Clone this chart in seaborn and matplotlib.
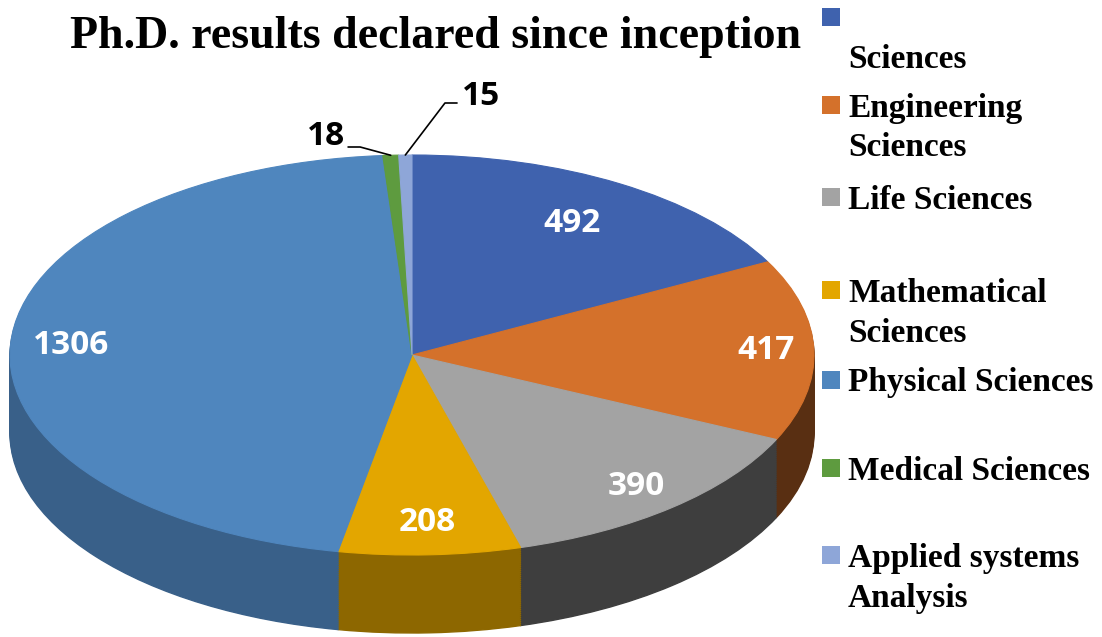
"""
plot.py
Ph.D. results declared since inception - pseudo 3D pie.
"""

import matplotlib
matplotlib.use("Agg")
import matplotlib.pyplot as plt
import seaborn as sns
import numpy as np
from matplotlib.patches import Rectangle
from matplotlib.lines import Line2D

# data
categories = ["\nSciences", "Engineering\nSciences", "Life Sciences",
              "Mathematical\nSciences", "Physical Sciences", "Medical Sciences",
              "Applied systems\nAnalysis"]
counts = [492, 417, 390, 208, 1306, 18, 15]
top_colors = ["#3F62AE", "#D4712B", "#A3A3A3", "#E3A600", "#4F86BE", "#5E9B3F", "#8EA6D8"]
side_shade = [0.55, 0.42, 0.38, 0.62, 0.72, 0.6, 0.6]

sns.set_theme(style="white")
plt.rcParams["font.family"] = ["DejaVu Sans"]
plt.rcParams["text.color"] = "black"

W, H = 1102, 637
fig = plt.figure(figsize=(W / 100, H / 100), dpi=100)
ax = fig.add_axes([0, 0, 1, 1])

# pixel geometry of the tilted pie
cx, cy, a, b, depth = 412, 355, 402, 200, 0.39

side_colors = [tuple(np.array(matplotlib.colors.to_rgb(c)) * s) for c, s in zip(top_colors, side_shade)]

# side wall: stack of darker pies moved down
n_steps = 40
for k in range(n_steps, 0, -1):
    ax.pie(counts, colors=side_colors, startangle=90, counterclock=False,
           center=(0, -depth * k / n_steps), radius=1,
           wedgeprops=dict(linewidth=1, edgecolor=None), frame=True)
    for w in ax.patches[-len(counts):]:
        w.set_edgecolor(w.get_facecolor())

# top face
wedges, _ = ax.pie(counts, colors=top_colors, startangle=90, counterclock=False,
                   radius=1, wedgeprops=dict(linewidth=0.8, edgecolor=None), frame=True)
for w in wedges:
    w.set_edgecolor(w.get_facecolor())

ax.set_aspect("auto")
ax.set_xlim(-cx / a, (W - cx) / a)
ax.set_ylim((cy - H) / b, cy / b)
ax.axis("off")

# data labels
total = sum(counts)
bounds = 90 - 360 * np.cumsum([0] + counts) / total
mids = (bounds[:-1] + bounds[1:]) / 2
inner_r = [0.77, 0.88, 0.86, 0.84, 0.85]
for i, r in enumerate(inner_r):
    th = np.deg2rad(mids[i])
    ax.text(r * np.cos(th), r * np.sin(th), str(counts[i]), color="white",
            fontsize=24, fontweight="bold", family="Open Sans", ha="center", va="center")

# small slices with leader lines
for i in (5, 6):
    th = np.deg2rad(mids[i])
    px, py = np.cos(th), np.sin(th)
    if i == 5:
        xs, ys = [-0.159, -0.129, px], [1.04, 1.04, py]
        ax.text(-0.167, 1.09, str(counts[i]), ha="right", va="center", fontsize=24,
                fontweight="bold", family="Open Sans", color="black")
    else:
        xs, ys = [px, 0.082, 0.112], [py, 1.26, 1.26]
        ax.text(0.124, 1.29, str(counts[i]), ha="left", va="center", fontsize=24,
                fontweight="bold", family="Open Sans", color="black")
    ax.add_line(Line2D(xs, ys, color="black", lw=1.2))

# title
fig.text(436 / W, 1 - 37 / H, "Ph.D. results declared since inception", ha="center",
         va="center", fontsize=33, fontweight="bold", family="Liberation Serif",
         color="black")

# legend, drawn by hand so the marker sits on the first line
marker_y = [17, 105, 197, 290, 380, 468, 555]
line_h = 40
for i, (lab, my) in enumerate(zip(categories, marker_y)):
    fig.patches.append(Rectangle((822 / W, 1 - (my + 9) / H), 18 / W, 18 / H,
                                 transform=fig.transFigure, facecolor=top_colors[i],
                                 edgecolor="none"))
    for j, line in enumerate(lab.split("\n")):
        if not line:
            continue
        fig.text(848 / W, 1 - (my + j * line_h + 3) / H, line, ha="left", va="center",
                 fontsize=24, fontweight="bold", family="Liberation Serif", color="black")

fig.savefig("out.png", dpi=100)
